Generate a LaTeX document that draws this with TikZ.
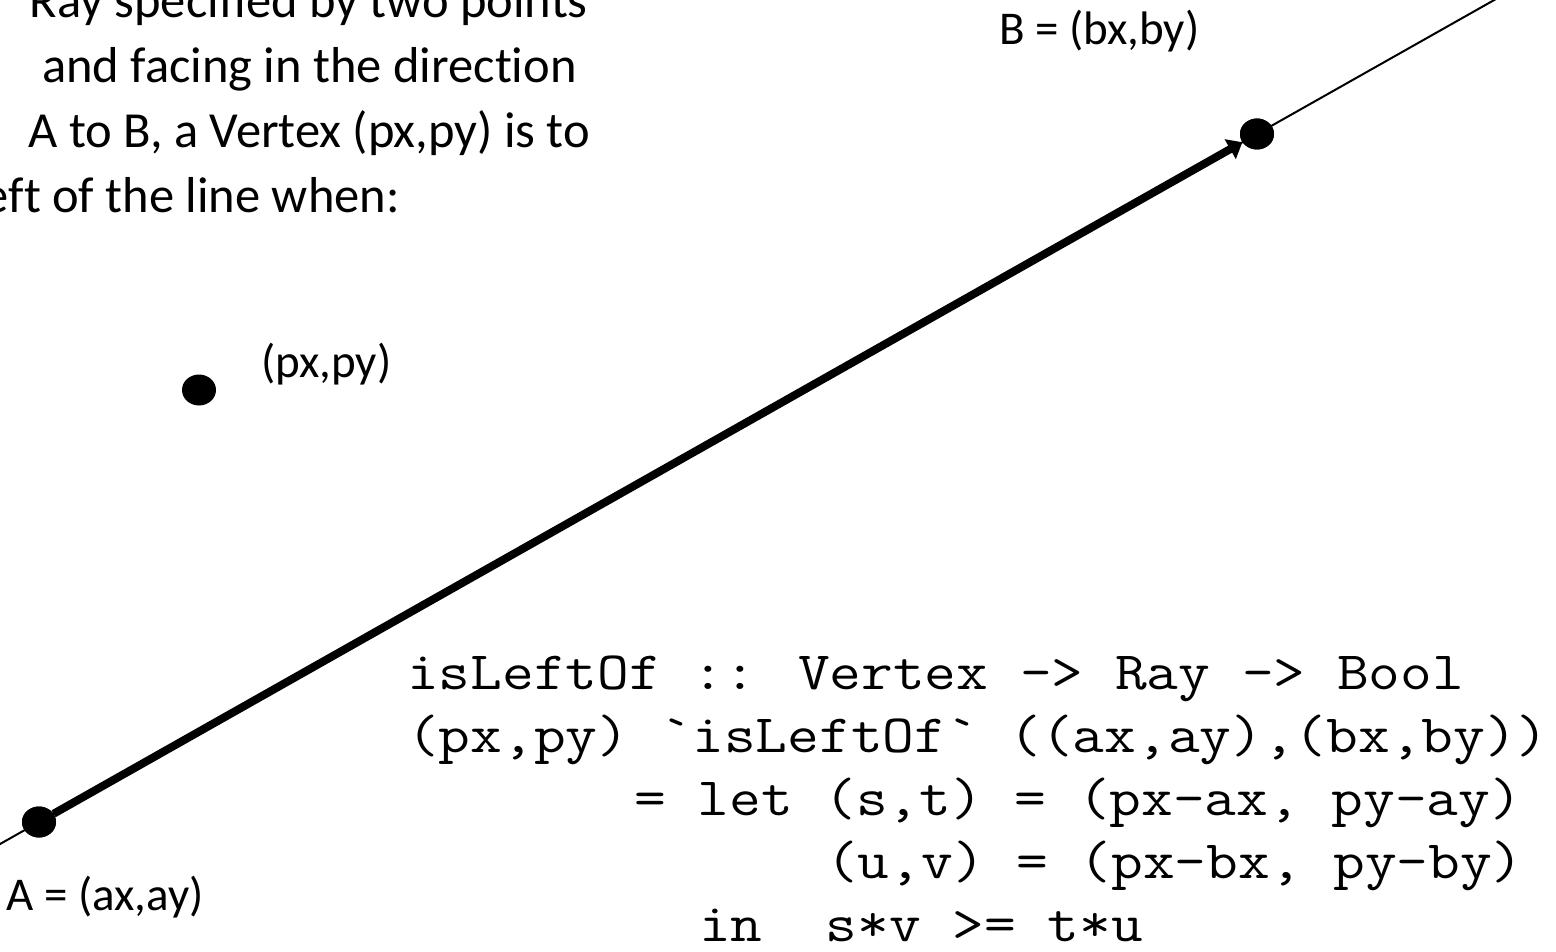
\documentclass[tikz,border=0pt]{standalone}
\usepackage{fontspec}
\usepackage{graphicx}
\setmainfont{Carlito}[Ligatures=CommonOff]
\usetikzlibrary{arrows.meta,calc,shapes.geometric}
\newcommand\cdline[1]{\scalebox{1.14}[1]{#1}}
\begin{document}
\begin{tikzpicture}[x=1pt,y=-1pt,
  dot/.style={ellipse,fill=black,draw=none,minimum width=34pt,minimum height=31pt,inner sep=0pt},
  toptext/.style={inner sep=0pt,font=\fontsize{50.5}{61}\selectfont,anchor=base east},
  lbl/.style={inner sep=0pt,font=\fontsize{47}{56}\selectfont,anchor=base west},
  code/.style={inner sep=0pt,font=\ttfamily\fontsize{54}{63}\selectfont,anchor=base west},
  ray/.style={line width=2pt},
  vec/.style={line width=8pt,-{Triangle[length=14pt,width=22pt]}}]
\useasboundingbox (0,0) rectangle (1556,952);
\clip (0,0) rectangle (1556,952);
% points
\node[dot] (A) at (39,822) {};
\node[dot] (B) at (1257,134) {};
\node[dot] (P) at (199,390) {};
% ray lines
\coordinate (rs) at ($(A.center)!-0.06!(B.center)$);
\coordinate (re) at ($(A.center)!1.25!(B.center)$);
\draw[ray] (rs) -- (re);
\draw[vec] (A) -- (B);
\node[dot] at (A.center) {};
\node[dot] at (B.center) {};
% top text
\node[toptext] (t1) at (588,18) {Ray specified by two points};
\node[toptext] (t2) at (577,83) {and facing in the direction};
\node[toptext] (t3) at (590,148) {A to B, a Vertex (px,py) is to};
\node[toptext] (t4) at (400,213) {eft of the line when:};
% labels
\node[lbl] (la) at (6,910) {A = (ax,ay)};
\node[lbl] (lb) at (999,45) {B = (bx,by)};
\node[lbl] (lp) at (261,377) {(px,py)};
% code
\node[code] (c1) at (407,689) {\cdline{isLeftOf :: Vertex -> Ray -> Bool}};
\node[code] (c2) at (407,752) {\cdline{(px,py) `isLeftOf` ((ax,ay),(bx,by))}};
\node[code] (c3) at (634,815) {\cdline{= let (s,t) = (px-ax, py-ay)}};
\node[code] (c4) at (826,878) {\cdline{(u,v) = (px-bx, py-by)}};
\node[code] (c5) at (699,941) {\cdline{in\ \ s*v >= t*u}};
\end{tikzpicture}
\end{document}
